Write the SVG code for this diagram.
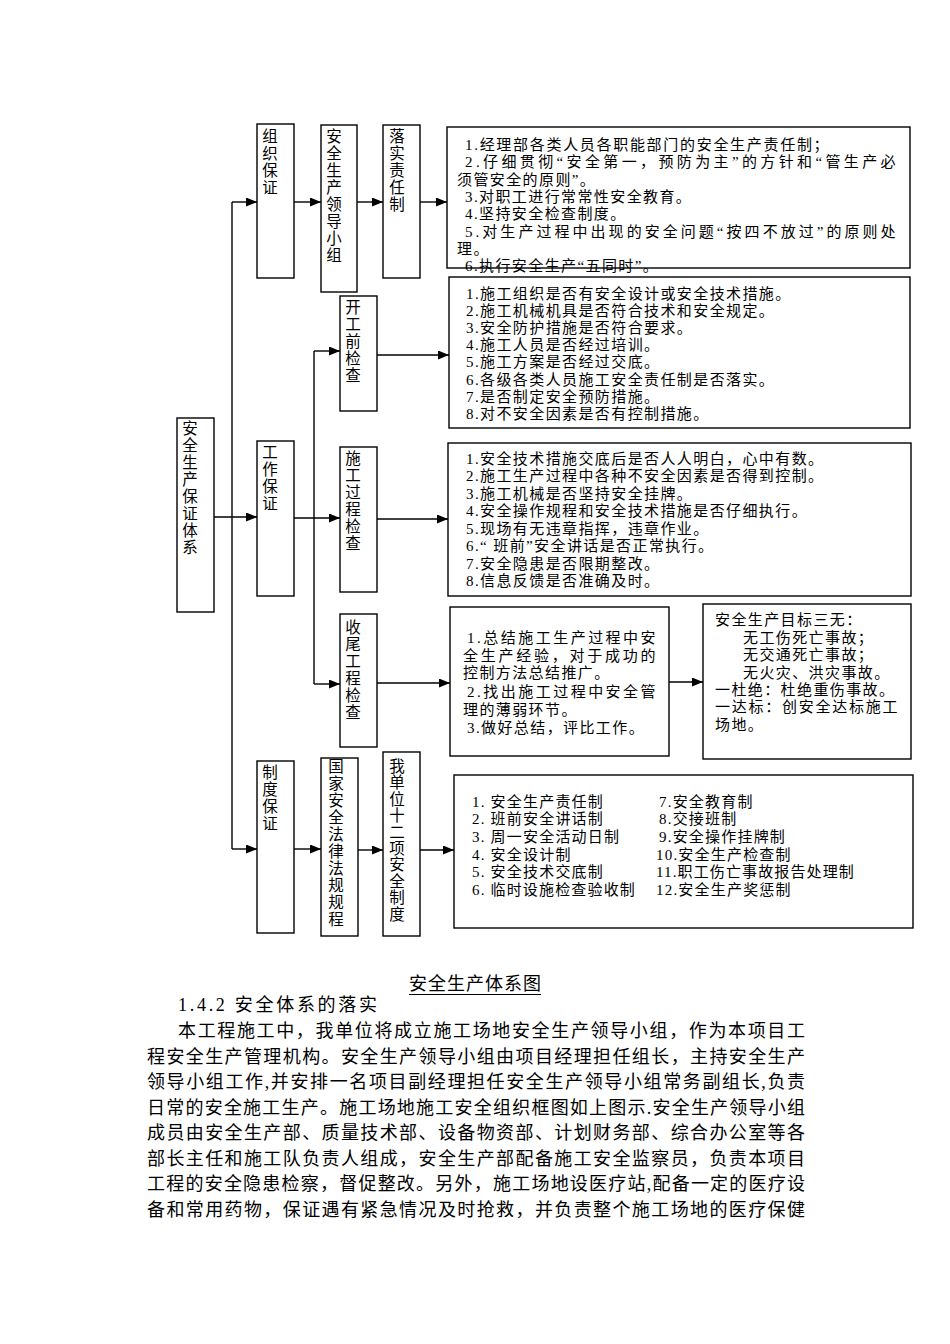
<svg xmlns="http://www.w3.org/2000/svg" width="950" height="1344" viewBox="0 0 950 1344">
<style>
.bx{fill:none;stroke:#000;stroke-width:1.4}
.ln{fill:none;stroke:#000;stroke-width:1.4}
.t{font-family:"Liberation Serif","Noto Sans CJK SC",serif;font-size:15px;fill:#000;letter-spacing:1.4px}
.t0{font-family:"Liberation Serif","Noto Sans CJK SC",serif;font-size:15px;fill:#000;letter-spacing:1.2px}
.v{font-family:"Liberation Serif","Noto Sans CJK SC",serif;font-size:15.5px;fill:#000;text-anchor:middle}
.p{font-family:"Liberation Serif","Noto Sans CJK SC",serif;font-size:18px;fill:#000}
</style>
<defs>
<marker id="ah" markerUnits="userSpaceOnUse" markerWidth="11" markerHeight="9" refX="11" refY="4.5" orient="auto">
<path d="M0,0 L11,4.5 L0,9 z" fill="#000"/>
</marker>
</defs>
<rect width="950" height="1344" fill="#fff"/>

<g id="connectors">
<line class="ln" x1="232" y1="202" x2="232" y2="849"/>
<line class="ln" x1="314" y1="351" x2="314" y2="684"/>
<line class="ln" x1="232" y1="202" x2="257" y2="202" marker-end="url(#ah)"/>
<line class="ln" x1="294" y1="202" x2="321" y2="202" marker-end="url(#ah)"/>
<line class="ln" x1="357" y1="202" x2="383" y2="202" marker-end="url(#ah)"/>
<line class="ln" x1="420" y1="202" x2="447" y2="202" marker-end="url(#ah)"/>
<line class="ln" x1="214" y1="517" x2="257" y2="517" marker-end="url(#ah)"/>
<line class="ln" x1="294" y1="518" x2="340" y2="518" marker-end="url(#ah)"/>
<line class="ln" x1="314" y1="351" x2="340" y2="351" marker-end="url(#ah)"/>
<line class="ln" x1="314" y1="684" x2="340" y2="684" marker-end="url(#ah)"/>
<line class="ln" x1="377" y1="355" x2="449" y2="355" marker-end="url(#ah)"/>
<line class="ln" x1="377" y1="519" x2="448" y2="519" marker-end="url(#ah)"/>
<line class="ln" x1="377" y1="683" x2="450" y2="683" marker-end="url(#ah)"/>
<line class="ln" x1="669" y1="682" x2="703" y2="682" marker-end="url(#ah)"/>
<line class="ln" x1="232" y1="849" x2="257" y2="849" marker-end="url(#ah)"/>
<line class="ln" x1="294" y1="849" x2="321" y2="849" marker-end="url(#ah)"/>
<line class="ln" x1="358" y1="850" x2="383" y2="850" marker-end="url(#ah)"/>
<line class="ln" x1="420" y1="850" x2="454" y2="850" marker-end="url(#ah)"/>
</g>

<g id="n-root">
<rect class="bx" x="177" y="418" width="37" height="194"/>
<text class="v"><tspan x="190" y="434">安</tspan><tspan x="190" dy="17">全</tspan><tspan x="190" dy="17">生</tspan><tspan x="190" dy="17">产</tspan><tspan x="190" dy="17">保</tspan><tspan x="190" dy="17">证</tspan><tspan x="190" dy="17">体</tspan><tspan x="190" dy="17">系</tspan></text>
</g>

<g id="n-zuzhi">
<rect class="bx" x="257" y="124" width="37" height="154"/>
<text class="v"><tspan x="270" y="142">组</tspan><tspan x="270" dy="17">织</tspan><tspan x="270" dy="17">保</tspan><tspan x="270" dy="17">证</tspan></text>
</g>

<g id="n-lingdao">
<rect class="bx" x="321" y="125" width="36" height="167"/>
<text class="v"><tspan x="334" y="142">安</tspan><tspan x="334" dy="17">全</tspan><tspan x="334" dy="17">生</tspan><tspan x="334" dy="17">产</tspan><tspan x="334" dy="17">领</tspan><tspan x="334" dy="17">导</tspan><tspan x="334" dy="17">小</tspan><tspan x="334" dy="17">组</tspan></text>
</g>

<g id="n-luoshi">
<rect class="bx" x="383" y="125" width="37" height="153"/>
<text class="v"><tspan x="397" y="142">落</tspan><tspan x="397" dy="17">实</tspan><tspan x="397" dy="17">责</tspan><tspan x="397" dy="17">任</tspan><tspan x="397" dy="17">制</tspan></text>
</g>

<g id="n-box1">
<rect class="bx" x="447" y="127" width="463" height="141"/>
<text class="t" x="465" y="150" textLength="365">1.经理部各类人员各职能部门的安全生产责任制；</text>
<text class="t" x="465" y="167" textLength="432">2.仔细贯彻“安全第一，预防为主”的方针和“管生产必</text>
<text class="t" x="457" y="185">须管安全的原则”。</text>
<text class="t" x="465" y="202">3.对职工进行常常性安全教育。</text>
<text class="t" x="465" y="219">4.坚持安全检查制度。</text>
<text class="t" x="465" y="237" textLength="432">5.对生产过程中出现的安全问题“按四不放过”的原则处</text>
<text class="t" x="457" y="254">理。</text>
<text class="t" x="465" y="271">6.执行安全生产“五同时”。</text>
</g>

<g id="n-kaigong">
<rect class="bx" x="340" y="296" width="37" height="115"/>
<text class="v"><tspan x="353" y="313">开</tspan><tspan x="353" dy="17">工</tspan><tspan x="353" dy="17">前</tspan><tspan x="353" dy="17">检</tspan><tspan x="353" dy="17">查</tspan></text>
</g>

<g id="n-box2">
<rect class="bx" x="449" y="277" width="461" height="151"/>
<text class="t" x="466" y="299">1.施工组织是否有安全设计或安全技术措施。</text>
<text class="t" x="466" y="316">2.施工机械机具是否符合技术和安全规定。</text>
<text class="t" x="466" y="333">3.安全防护措施是否符合要求。</text>
<text class="t" x="466" y="350">4.施工人员是否经过培训。</text>
<text class="t" x="466" y="367">5.施工方案是否经过交底。</text>
<text class="t" x="466" y="385">6.各级各类人员施工安全责任制是否落实。</text>
<text class="t" x="466" y="402">7.是否制定安全预防措施。</text>
<text class="t" x="466" y="419">8.对不安全因素是否有控制措施。</text>
</g>

<g id="n-gongzuo">
<rect class="bx" x="257" y="441" width="37" height="155"/>
<text class="v"><tspan x="270" y="458">工</tspan><tspan x="270" dy="17">作</tspan><tspan x="270" dy="17">保</tspan><tspan x="270" dy="17">证</tspan></text>
</g>

<g id="n-shigong">
<rect class="bx" x="340" y="447" width="37" height="145"/>
<text class="v"><tspan x="353" y="464">施</tspan><tspan x="353" dy="17">工</tspan><tspan x="353" dy="17">过</tspan><tspan x="353" dy="17">程</tspan><tspan x="353" dy="17">检</tspan><tspan x="353" dy="17">查</tspan></text>
</g>

<g id="n-box3">
<rect class="bx" x="448" y="443" width="463" height="153"/>
<text class="t" x="466" y="464">1.安全技术措施交底后是否人人明白，心中有数。</text>
<text class="t" x="466" y="481">2.施工生产过程中各种不安全因素是否得到控制。</text>
<text class="t" x="466" y="499">3.施工机械是否坚持安全挂牌。</text>
<text class="t" x="466" y="516">4.安全操作规程和安全技术措施是否仔细执行。</text>
<text class="t" x="466" y="534">5.现场有无违章指挥，违章作业。</text>
<text class="t" x="466" y="551">6.“ 班前”安全讲话是否正常执行。</text>
<text class="t" x="466" y="569">7.安全隐患是否限期整改。</text>
<text class="t" x="466" y="586">8.信息反馈是否准确及时。</text>
</g>

<g id="n-shouwei">
<rect class="bx" x="340" y="614" width="37" height="133"/>
<text class="v"><tspan x="353" y="633">收</tspan><tspan x="353" dy="17">尾</tspan><tspan x="353" dy="17">工</tspan><tspan x="353" dy="17">程</tspan><tspan x="353" dy="17">检</tspan><tspan x="353" dy="17">查</tspan></text>
</g>

<g id="n-box4">
<rect class="bx" x="450" y="607" width="219" height="149"/>
<text class="t" x="467" y="643" textLength="190">1.总结施工生产过程中安</text>
<text class="t" x="463" y="661" textLength="194">全生产经验，对于成功的</text>
<text class="t" x="463" y="678">控制方法总结推广。</text>
<text class="t" x="467" y="697" textLength="190">2.找出施工过程中安全管</text>
<text class="t" x="463" y="715">理的薄弱环节。</text>
<text class="t" x="467" y="733">3.做好总结，评比工作。</text>
</g>

<g id="n-box5">
<rect class="bx" x="703" y="604" width="208" height="155"/>
<text class="t" x="715" y="625">安全生产目标三无：</text>
<text class="t" x="743" y="643">无工伤死亡事故；</text>
<text class="t" x="743" y="660">无交通死亡事故；</text>
<text class="t" x="743" y="678">无火灾、洪灾事故。</text>
<text class="t" x="715" y="695">一杜绝：杜绝重伤事故。</text>
<text class="t" x="715" y="712" textLength="184">一达标：创安全达标施工</text>
<text class="t" x="715" y="730">场地。</text>
</g>

<g id="n-zhidu">
<rect class="bx" x="257" y="761" width="37" height="172"/>
<text class="v"><tspan x="270" y="778">制</tspan><tspan x="270" dy="17">度</tspan><tspan x="270" dy="17">保</tspan><tspan x="270" dy="17">证</tspan></text>
</g>

<g id="n-guojia">
<rect class="bx" x="321" y="758" width="37" height="178"/>
<text class="v"><tspan x="336" y="772">国</tspan><tspan x="336" dy="17">家</tspan><tspan x="336" dy="17">安</tspan><tspan x="336" dy="17">全</tspan><tspan x="336" dy="17">法</tspan><tspan x="336" dy="17">律</tspan><tspan x="336" dy="17">法</tspan><tspan x="336" dy="17">规</tspan><tspan x="336" dy="17">规</tspan><tspan x="336" dy="17">程</tspan></text>
</g>

<g id="n-woshi">
<rect class="bx" x="383" y="752" width="37" height="184"/>
<text class="v"><tspan x="397" y="772">我</tspan><tspan x="397" dy="16.4">单</tspan><tspan x="397" dy="16.4">位</tspan><tspan x="397" dy="16.4">十</tspan><tspan x="397" dy="16.4">二</tspan><tspan x="397" dy="16.4">项</tspan><tspan x="397" dy="16.4">安</tspan><tspan x="397" dy="16.4">全</tspan><tspan x="397" dy="16.4">制</tspan><tspan x="397" dy="16.4">度</tspan></text>
</g>

<g id="n-box6">
<rect class="bx" x="454" y="775" width="459" height="153"/>
<text class="t0" x="472" y="807">1. 安全生产责任制</text>
<text class="t0" x="472" y="824">2. 班前安全讲话制</text>
<text class="t0" x="472" y="842">3. 周一安全活动日制</text>
<text class="t0" x="472" y="860">4. 安全设计制</text>
<text class="t0" x="472" y="877">5. 安全技术交底制</text>
<text class="t0" x="472" y="895" textLength="164">6. 临时设施检查验收制</text>
<text class="t0" x="659" y="807">7.安全教育制</text>
<text class="t0" x="659" y="824">8.交接班制</text>
<text class="t0" x="659" y="842">9.安全操作挂牌制</text>
<text class="t0" x="656" y="860">10.安全生产检查制</text>
<text class="t0" x="656" y="877" textLength="199">11.职工伤亡事故报告处理制</text>
<text class="t0" x="656" y="895">12.安全生产奖惩制</text>
</g>

<g id="caption">
<text class="p" x="409" y="990" font-size="17" textLength="132">安全生产体系图</text>
<line x1="409" y1="994.5" x2="541" y2="994.5" stroke="#000" stroke-width="1"/>
</g>

<g id="body">
<text class="p" x="178" y="1011" textLength="199">1.4.2 安全体系的落实</text>
<text class="p" x="178" y="1037" textLength="627">本工程施工中，我单位将成立施工场地安全生产领导小组，作为本项目工</text>
<text class="p" x="147" y="1063" textLength="658">程安全生产管理机构。安全生产领导小组由项目经理担任组长，主持安全生产</text>
<text class="p" x="147" y="1088" textLength="658">领导小组工作,并安排一名项目副经理担任安全生产领导小组常务副组长,负责</text>
<text class="p" x="147" y="1114" textLength="658">日常的安全施工生产。施工场地施工安全组织框图如上图示.安全生产领导小组</text>
<text class="p" x="147" y="1139" textLength="658">成员由安全生产部、质量技术部、设备物资部、计划财务部、综合办公室等各</text>
<text class="p" x="147" y="1165" textLength="658">部长主任和施工队负责人组成，安全生产部配备施工安全监察员，负责本项目</text>
<text class="p" x="147" y="1190" textLength="658">工程的安全隐患检察，督促整改。另外，施工场地设医疗站,配备一定的医疗设</text>
<text class="p" x="147" y="1216" textLength="658">备和常用药物，保证遇有紧急情况及时抢救，并负责整个施工场地的医疗保健</text>
</g>
</svg>
